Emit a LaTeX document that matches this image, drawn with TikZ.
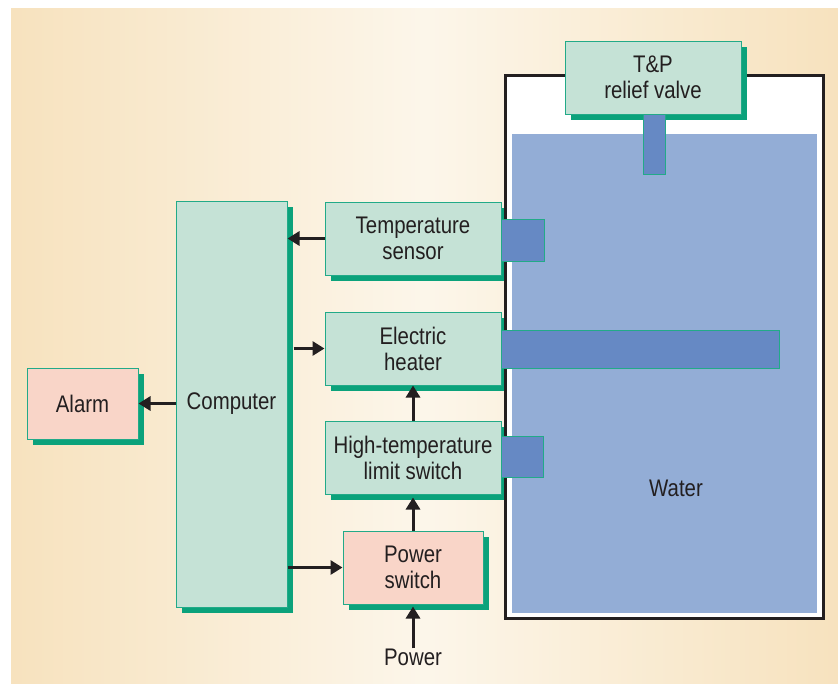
\documentclass[tikz,border=0pt]{standalone}
\usepackage{fontspec}
\setmainfont[FakeStretch=0.85]{Liberation Sans}
\usetikzlibrary{arrows.meta,shadows}
\definecolor{bgside}{HTML}{F7E2BE}
\definecolor{bgmid}{HTML}{FCF6EA}
\definecolor{boxfill}{HTML}{C5E2D6}
\definecolor{boxline}{HTML}{22AA88}
\definecolor{shade}{HTML}{0BA27B}
\definecolor{pinkfill}{HTML}{F9D5C8}
\definecolor{water}{HTML}{93ADD6}
\definecolor{stub}{HTML}{6689C4}
\definecolor{ink}{HTML}{231F20}
\tikzset{
  box/.style={draw=boxline, line width=1pt, fill=boxfill, text=ink, align=center,
    inner sep=0pt, minimum width=176pt, minimum height=73pt,
    drop shadow={shadow xshift=6pt, shadow yshift=-6pt, fill=shade, opacity=1},
    font=\fontsize{24}{26}\selectfont},
  pinkbox/.style={box, fill=pinkfill},
  stubpart/.style={draw=boxline, line width=1pt, fill=stub},
  arr/.style={draw=ink, line width=3pt, -{Triangle[length=12pt,width=14pt]}},
  lbl/.style={text=ink, font=\fontsize{24}{26}\selectfont, inner sep=0pt}
}
\begin{document}
\begin{tikzpicture}[x=1pt,y=-1pt]
\useasboundingbox (0,0) rectangle (838,683);
% background
\shade[left color=bgside, right color=bgside, middle color=bgmid] (11,8) rectangle (838,683);
% tank interior and water
\fill[white] (505.5,75) rectangle (823,618.5);
\fill[water] (512,134) rectangle (817,613);
% side boxes
\node[box] (sensor) at (413,238.5) {Temperature\\sensor};
\node[box] (heater) at (413,348.5) {Electric\\heater};
\node[box] (limit) at (413,457.5) {High-temperature\\limit switch};
\node[pinkbox, minimum width=140pt] (power) at (413,567.5) {Power\\switch};
\node[box, minimum width=111pt, minimum height=406pt] (comp) at (231.5,404) {Computer};
\node[pinkbox, minimum width=111pt, minimum height=71pt] (alarm) at (82.5,403.5) {Alarm};
\node[lbl] (powerin) at (413,657) {Power};
\node[lbl] (waterlbl) at (676,488) {Water};
% tank wall
\draw[ink, line width=3pt] (505.5,75) rectangle (823,618.5);
% stubs
\draw[stubpart] (sensor.east) ++(0,-19.5) rectangle ++(43,42);
\draw[stubpart] (heater.east) ++(0,-18.5) rectangle (779,368);
\draw[stubpart] (limit.east) ++(0,-21.5) rectangle ++(42,41);
% T&P valve
\node[box] (valve) at (653,77.5) {T\&P\\relief valve};
\draw[stubpart] (643,114) rectangle (665,174);
% connectors
\draw[arr] (sensor.west) -- (sensor.west -| comp.east);
\coordinate (c1) at ([xshift=6pt]comp.east |- heater.west);
\draw[arr] (c1) -- (heater.west);
\coordinate (c2) at (comp.east |- power.west);
\draw[arr] (c2) -- (power.west);
\draw[arr] (comp.west |- alarm.east) -- (alarm.east);
\draw[arr] (limit.north) -- (heater.south);
\draw[arr] (power.north) -- ([yshift=-3pt]limit.south);
\draw[arr] (powerin.north) -- ([yshift=-2pt]power.south);
\end{tikzpicture}
\end{document}
